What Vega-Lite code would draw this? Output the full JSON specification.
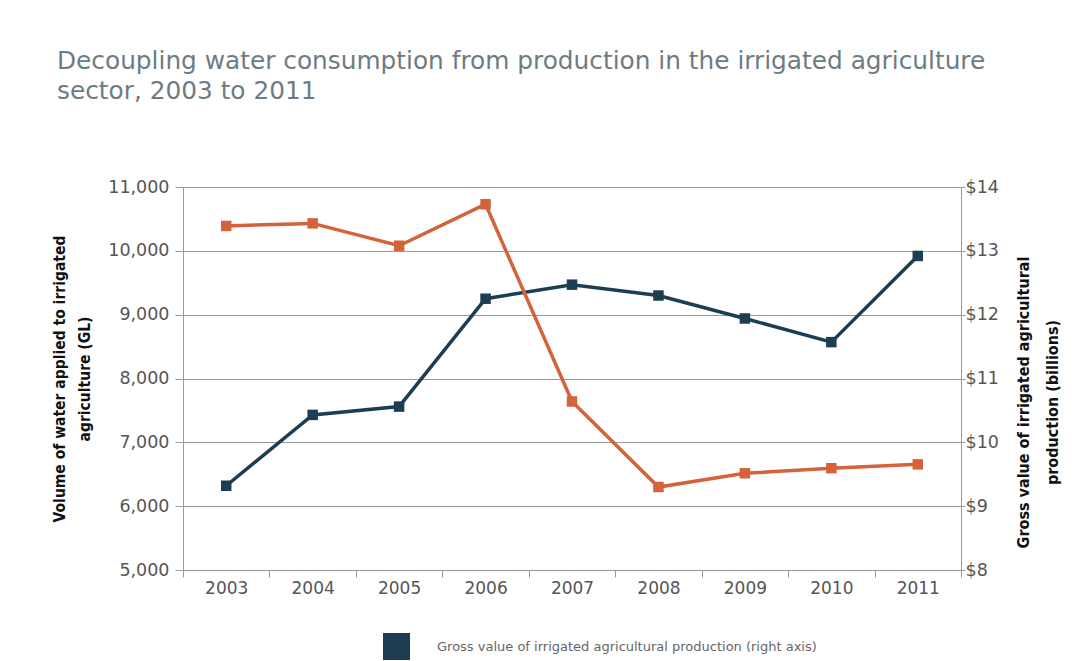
{
  "$schema": "https://vega.github.io/schema/vega-lite/v6.json",
  "width": 778,
  "height": 383,
  "autosize": {"type": "none"},
  "padding": {"left": 183, "top": 187, "right": 117, "bottom": 91},
  "background": "white",
  "title": {
    "text": ["Decoupling water consumption from production in the irrigated agriculture", "sector, 2003 to 2011"],
    "anchor": "start",
    "frame": "group",
    "dx": -126,
    "offset": 74,
    "font": "DejaVu Sans",
    "fontSize": 24.8,
    "fontWeight": "normal",
    "color": "#6d7c82",
    "lineHeight": 30
  },
  "data": {
    "values": [
      {"year": "2003", "water": 10390, "value": 9.32},
      {"year": "2004", "water": 10430, "value": 10.43},
      {"year": "2005", "water": 10080, "value": 10.56},
      {"year": "2006", "water": 10730, "value": 12.25},
      {"year": "2007", "water": 7640, "value": 12.47},
      {"year": "2008", "water": 6300, "value": 12.30},
      {"year": "2009", "water": 6515, "value": 11.94},
      {"year": "2010", "water": 6595, "value": 11.57},
      {"year": "2011", "water": 6655, "value": 12.92}
    ]
  },
  "encoding": {
    "x": {
      "field": "year",
      "type": "ordinal",
      "bandPosition": 0.5,
      "scale": {"type": "band", "paddingInner": 0, "paddingOuter": 0},
      "axis": {
        "title": null,
        "labelAngle": 0,
        "tickBand": "extent",
        "tickSize": 7,
        "tickColor": "#999999",
        "domainColor": "#999999",
        "labelFont": "DejaVu Sans",
        "labelFontSize": 17,
        "labelColor": "#555555",
        "labelPadding": 3,
        "grid": false
      }
    }
  },
  "layer": [
    {
      "mark": {"type": "line", "strokeWidth": 3.5, "point": {"shape": "square", "size": 110, "filled": true}},
      "encoding": {
        "y": {
          "field": "value",
          "type": "quantitative",
          "scale": {"domain": [8, 14], "nice": false},
          "axis": {
            "orient": "right",
            "values": [8, 9, 10, 11, 12, 13, 14],
            "labelExpr": "'$' + datum.value",
            "grid": false,
            "tickSize": 4,
            "tickColor": "#999999",
            "domainColor": "#999999",
            "labelFont": "DejaVu Sans",
            "labelFontSize": 17.5,
            "labelColor": "#555555",
            "labelPadding": 0,
            "title": ["Gross value of irrigated agricultural", "production (billions)"],
            "titleAngle": -90,
            "titleY": 215,
            "titleFont": "DejaVu Sans Condensed",
            "titleFontSize": 16,
            "titleFontWeight": "bold",
            "titleColor": "#111111",
            "titleLineHeight": 29,
            "titlePadding": 4
          }
        },
        "color": {
          "datum": "Gross value of irrigated agricultural production (right axis)",
          "type": "nominal",
          "scale": {"range": ["#1c3d52"]},
          "legend": {
            "title": null,
            "orient": "none",
            "legendX": 200,
            "legendY": 446,
            "symbolType": "square",
            "symbolSize": 729,
            "labelFont": "DejaVu Sans",
            "labelFontSize": 13,
            "labelColor": "#666666",
            "labelOffset": 27,
            "labelLimit": 700,
            "encode": {"symbols": {"update": {"fill": {"value": "#1f4f7f"}, "stroke": {"value": "#1f4f7f"}, "strokeWidth": {"value": 0}}}}
          }
        }
      }
    },
    {
      "mark": {"type": "line", "color": "#d4623a", "strokeWidth": 3.5, "point": {"shape": "square", "size": 110, "filled": true, "color": "#d4623a"}},
      "encoding": {
        "y": {
          "field": "water",
          "type": "quantitative",
          "scale": {"domain": [5000, 11000], "nice": false},
          "axis": {
            "orient": "left",
            "values": [5000, 6000, 7000, 8000, 9000, 10000, 11000],
            "format": ",d",
            "grid": true,
            "gridColor": "#999999",
            "gridWidth": 1.2,
            "tickSize": 8,
            "tickColor": "#999999",
            "domainColor": "#999999",
            "labelFont": "DejaVu Sans",
            "labelFontSize": 17.5,
            "labelColor": "#555555",
            "labelPadding": 6,
            "title": ["Volume of water applied to irrigated", "agriculture (GL)"],
            "titleFont": "DejaVu Sans Condensed",
            "titleFontSize": 15.5,
            "titleFontWeight": "bold",
            "titleColor": "#111111",
            "titleLineHeight": 25,
            "titlePadding": 15
          }
        }
      }
    }
  ],
  "resolve": {"scale": {"y": "independent"}},
  "config": {"view": {"stroke": null}}
}
